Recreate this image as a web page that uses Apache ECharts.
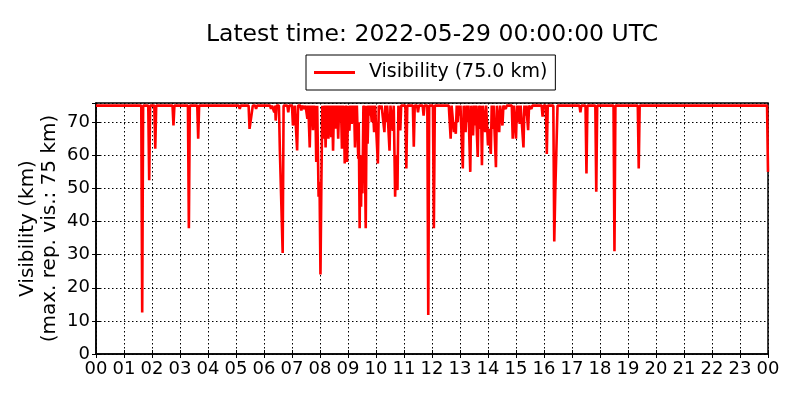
<!DOCTYPE html>
<html>
<head>
<meta charset="utf-8">
<script src="https://cdn.jsdelivr.net/npm/echarts@6/dist/echarts.min.js"></script>
<style>html,body{margin:0;padding:0;background:#fff}#c{width:800px;height:400px}</style>
</head>
<body>
<div id="c"></div>
<script>
const titleText = 'Latest time: 2022-05-29 00:00:00 UTC';
const seriesName = 'Visibility (75.0 km)';
const hourLabels = ['00','01','02','03','04','05','06','07','08','09','10','11','12','13','14','15','16','17','18','19','20','21','22','23','00'];
const yTicks = [0,10,20,30,40,50,60,70];

// observation time in minutes after 00 UTC
const minutes = [
  0, 97,99,101, 112,114,116, 125,127,129, 164,166,168, 197,199,201, 217,219,221,
  306,308,310, 327,329,331,334,336, 341,343,345,
  373,375,377, 380,382,384,385,387, 392,394,397,400,402,
  410,412,414, 420,422,424,426, 429,431,433, 438,440,442, 445,447,449,
  452,453,455, 456,458,460, 461,463, 465,467, 468,470, 472,474,
  475,477,479,481,483,485, 486,488,490, 492,494, 495,496, 498,500, 501,502,
  504,506, 508,510, 511,512, 513,515, 516,517, 519,521, 523,525, 527,529, 530,531,
  533,535, 536,537, 538,540, 543,545, 548,550, 552,553, 555,557, 558,559,
  560,562,563,565,566,568,569,571,573, 574,575, 577,578,580, 582,584, 586,588, 591,593, 596,598,
  602,604,606, 608,610,612, 616,618,620, 622,624, 627,629,631, 634,636,638,
  639,641,643,646,648, 650,652,654, 663,665,667, 679,681,683, 688,690,692, 700,702,704,
  710,712,714, 722,724,726, 756,758,760,762, 765,767,769,771,773, 774,775,777, 779,781,
  784,786,788, 790,792,794, 796,798, 800,802,804, 806,808,810, 812,814, 816,818,820,
  821,823,825,827,829, 832,834,836, 838,840,842,846,848, 850,852, 855,857,859,
  862,864,866, 869,871,873, 876,878,880, 891,893,895, 898,900,902, 904,906, 908,910,
  914,916,918, 920,922, 924,926,928, 931,933,935, 955,957,959, 964,966,968,
  980,982,984,987,989, 1036,1038,1040, 1049,1051,1053, 1070,1072,1074, 1109,1111,1113, 1161,1163,1165, 1438,1440
];
// visibility in km (75 = max reported)
const visibility = [
  75, 75,12.5,75, 75,52.5,75, 75,62,75, 75,69,75, 75,38,75, 75,65,75,
  75,74,75, 75,68,70,69.5,75, 75,74,75,
  75,74,75, 75,73,75,70.5,75, 75,61.5,62,30.5,75,
  75,73,75, 75,69,70,75, 75,61.5,75, 75,73.5,75, 75,74,75,
  75,71,75, 75,62.4,75, 72,75, 67.6,75, 70,75, 58,75,
  75,47.5,52,24,52.4,75, 75,65,75, 62.4,75, 68,75, 65,75, 70,75,
  65.5,75, 61.4,75, 68,75, 70,75, 68,75, 65,75, 70,75, 62,75, 68,75,
  57.5,75, 70,75, 58,75, 67.4,75, 69.5,75, 70,75, 62.4,75, 68,75,
  75,59,70,38,60,44.5,60,48.5,75, 70,75, 75,38,75, 63.5,75, 72,75, 70,75, 67,75,
  75,57.5,75, 75,74,75, 75,67,75, 70,75, 75,61.4,75, 75,67.4,75,
  75,47.5,60,49.5,75, 75,67.5,75, 75,56,75, 75,62.6,75, 75,73,75, 75,72,75,
  75,11.8,75, 75,38,75, 75,70,65,75, 75,67,70,66.5,75, 75,70,75, 72,75,
  75,56,75, 75,67,75, 70,75, 75,55,75, 75,66,75, 69,75, 75,59.5,75,
  75,68,75,57,75, 75,67,75, 75,63,68,60.4,75, 68,75, 75,56.4,75,
  75,67,75, 75,69,75, 75,74,75, 75,65,75, 75,65,75, 70,75, 69.5,75,
  75,62.4,75, 72,75, 75,67.6,75, 75,74,75, 75,71.7,75, 75,60.4,75,
  75,34,48,47.7,75, 75,73,75, 75,54.5,75, 75,49,75, 75,31,75, 75,56,75, 75,55
];

const data = minutes.map((m, i) => [m, visibility[i]]);
const font = 'DejaVu Sans';
const chart = echarts.init(document.getElementById('c'), null, {renderer: 'canvas'});
chart.setOption({
  animation: false,
  backgroundColor: '#fff',
  textStyle: {fontFamily: font},
  graphic: [{
    type: 'text', silent: true, x: 432, y: 35,
    style: {text: titleText, fontFamily: font, fontSize: 23.5, fill: '#000',
      align: 'center', verticalAlign: 'middle'}
  }],
  legend: {
    data: [seriesName], left: 306, top: 55,
    borderColor: '#000', borderWidth: 1, padding: [8, 8, 8, 8],
    icon: 'rect', itemWidth: 41, itemHeight: 3,
    textStyle: {fontFamily: font, fontSize: 19, color: '#000', padding: [0, 0, 0, 9]}
  },
  grid: {left: 96, right: 32, top: 103, bottom: 46, show: true, borderColor: '#000', borderWidth: 1.5, backgroundColor: 'transparent'},
  xAxis: [{
    type: 'value', min: 0, max: 1440, interval: 60,
    axisLine: {show: true, lineStyle: {color: '#000', width: 1.5}},
    axisTick: {show: true, inside: true, length: 4, lineStyle: {color: '#000'}},
    axisLabel: {fontFamily: font, fontSize: 18, color: '#000', margin: 6,
      formatter: v => hourLabels[Math.round(v / 60)]},
    splitLine: {show: true, lineStyle: {color: '#000', type: [1.5, 2.5], width: 1}}
  }, {
    type: 'value', min: 0, max: 1440, interval: 60, position: 'top',
    axisLine: {show: false}, axisLabel: {show: false}, splitLine: {show: false},
    axisTick: {show: true, inside: true, length: 4, lineStyle: {color: '#000'}}
  }],
  yAxis: [{
    type: 'value', min: 0, max: 75.8, interval: 10,
    name: 'Visibility (km)\n(max. rep. vis.: 75 km)',
    nameLocation: 'middle', nameRotate: 90, nameGap: 35, nameMoveOverlap: false,
    nameTextStyle: {fontFamily: font, fontSize: 20, color: '#000', lineHeight: 22},
    axisLine: {show: true, lineStyle: {color: '#000', width: 1.5}},
    axisTick: {show: true, inside: true, length: 4, lineStyle: {color: '#000'}},
    axisLabel: {fontFamily: font, fontSize: 18, color: '#000', margin: 6, showMaxLabel: false,
      formatter: v => (yTicks.indexOf(v) >= 0 ? String(v) : '')},
    splitLine: {show: true, lineStyle: {color: '#000', type: [1.5, 2.5], width: 1}}
  }, {
    type: 'value', min: 0, max: 75.8, interval: 10, position: 'right',
    axisLine: {show: false}, axisLabel: {show: false}, splitLine: {show: false},
    axisTick: {show: true, inside: true, length: 4, lineStyle: {color: '#000'}}
  }],
  series: [{
    name: seriesName, type: 'line', data: data, xAxisIndex: 0, yAxisIndex: 0,
    showSymbol: false, symbol: 'none', clip: false,
    lineStyle: {color: '#ff0000', width: 2.6}, itemStyle: {color: '#ff0000'}
  }]
});
</script>
</body>
</html>
